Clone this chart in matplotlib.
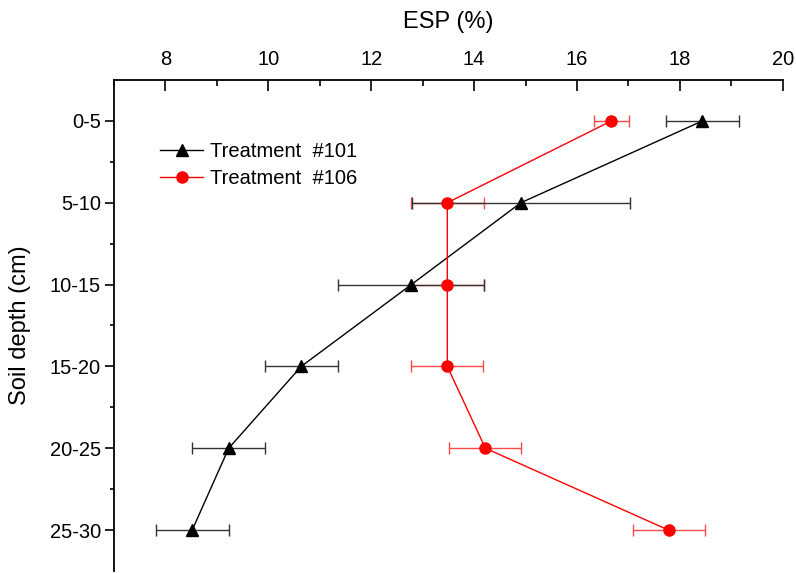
import matplotlib
matplotlib.use("Agg")
import matplotlib.pyplot as plt
from matplotlib.ticker import MultipleLocator

plt.rcParams['font.family'] = ['Liberation Sans', 'DejaVu Sans']

depths = ['0-5', '5-10', '10-15', '15-20', '20-25', '25-30']

# ESP (%) per soil layer, with error half-widths
esp_101 = [18.44, 14.91, 12.78, 10.64, 9.23, 8.52]
err_101 = [0.71, 2.12, 1.42, 0.71, 0.71, 0.71]
esp_106 = [16.67, 13.48, 13.48, 13.48, 14.22, 17.78]
err_106 = [0.34, 0.71, 0.71, 0.70, 0.70, 0.70]

ypos = list(range(len(depths)))

fig = plt.figure(figsize=(7.96, 5.73), dpi=100)
ax = fig.add_axes([0.1432, 0.0035, 0.8401, 0.8569])

# error bars first so markers sit on top
ax.errorbar(esp_106, ypos, xerr=err_106, fmt='none', ecolor='#ff4a4a',
            elinewidth=1.0, capsize=4, capthick=1.0, zorder=1)
ax.errorbar(esp_101, ypos, xerr=err_101, fmt='none', ecolor='#333333',
            elinewidth=1.0, capsize=4, capthick=1.0, zorder=2)

ax.plot(esp_101, ypos, color='black', lw=1.0, marker='^', markersize=9,
        label='Treatment  #101', zorder=4)
ax.plot(esp_106, ypos, color='red', lw=1.0, marker='o', markersize=8,
        label='Treatment  #106', zorder=5)

ax.set_xlim(7, 20)
ax.set_ylim(5.5, -0.5)

ax.xaxis.set_ticks_position('top')
ax.xaxis.set_label_position('top')
ax.xaxis.set_major_locator(MultipleLocator(2))
ax.xaxis.set_minor_locator(MultipleLocator(1))
ax.set_yticks(ypos)
ax.set_yticklabels(depths)
ax.set_yticks([p + 0.5 for p in ypos[:-1]], minor=True)

for side in ['right', 'bottom']:
    ax.spines[side].set_visible(False)
for side in ['top', 'left']:
    ax.spines[side].set_linewidth(1.3)

ax.tick_params(axis='x', which='major', direction='in', length=8, width=1.2,
               labelsize=14.5, pad=8)
ax.tick_params(axis='x', which='minor', direction='in', length=4, width=1.2)
ax.tick_params(axis='y', which='major', direction='out', length=6.5, width=1.2,
               labelsize=14.5, pad=3)
ax.tick_params(axis='y', which='minor', direction='out', length=3, width=1.2)

ax.set_xlabel('ESP (%)', fontsize=17, labelpad=16)
ax.set_ylabel('Soil depth (cm)', fontsize=17, labelpad=13)

ax.legend(loc='upper left', bbox_to_anchor=(0.069, 0.874), frameon=False,
          fontsize=14.5, handlelength=2.15, handletextpad=0.35, borderpad=0,
          borderaxespad=0, labelspacing=0.42)

fig.savefig('out.png', dpi=100)
